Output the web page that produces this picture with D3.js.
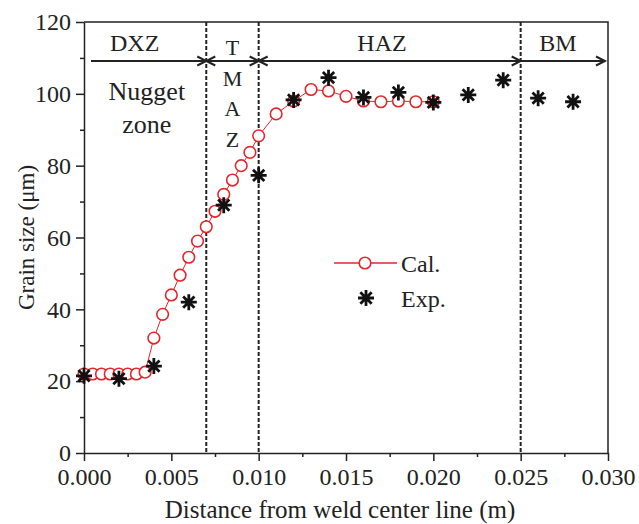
<!DOCTYPE html>
<html>
<head>
<meta charset="utf-8">
<script src="https://cdn.jsdelivr.net/npm/d3@7"></script>
<style>
  body { margin: 0; background: #fff; }
  svg { display: block; }
  text { font-family: "Liberation Serif", "Times New Roman", serif; fill: #222; }
</style>
</head>
<body>
<div id="chart"></div>
<script>
// calculated grain size (red circles)
const calX = [0, 0.0005, 0.001, 0.0015, 0.002, 0.0025, 0.003, 0.0035, 0.004, 0.0045,
              0.005, 0.0055, 0.006, 0.0065, 0.007, 0.0075, 0.008, 0.0085, 0.009, 0.0095,
              0.010, 0.011, 0.012, 0.013, 0.014, 0.015, 0.016, 0.017, 0.018, 0.019, 0.020]
const calY = [22, 22, 22, 22, 22, 22, 22, 22.5, 32, 38.6,
              44, 49.5, 54.5, 59, 63, 67.3, 72, 76, 80, 83.7,
              88.3, 94.4, 98, 101.2, 100.8, 99.3, 98, 97.8, 98, 97.8, 97.8]

// experimental grain size (black stars)
const expX = [0, 0.002, 0.004, 0.006, 0.008, 0.010, 0.012, 0.014, 0.016, 0.018,
              0.020, 0.022, 0.024, 0.026, 0.028]
const expY = [21.5, 20.7, 24.2, 42, 69, 77.3, 98.3, 104.5, 99, 100.4,
              97.6, 99.7, 103.8, 98.8, 97.8]

const xTicks = [0, 0.005, 0.010, 0.015, 0.020, 0.025, 0.030]
const xMinor = [0.0025, 0.0075, 0.0125, 0.0175, 0.0225, 0.0275]
const yTicks = [0, 20, 40, 60, 80, 100, 120]
const yMinor = [10, 30, 50, 70, 90, 110]

// zone boundaries (dashed lines) and zone labels
const boundaries = [0.007, 0.010, 0.025]
const zoneNames = ["DXZ", "HAZ", "BM"]
const zoneLabelX = [0.0029, 0.01706, 0.02714]
const tmazLetters = ["T", "M", "A", "Z"]

const width = 639, height = 524
const margin = {top: 22, right: 31, bottom: 71, left: 84}

const svg = d3.select("#chart").append("svg")
    .attr("width", width)
    .attr("height", height)

const x = d3.scaleLinear().domain([0, 0.030]).range([margin.left, width - margin.right])
const y = d3.scaleLinear().domain([0, 120]).range([height - margin.bottom, margin.top])

const x0 = x.range()[0], x1 = x.range()[1]
const y0 = y.range()[0], y1 = y.range()[1]

// frame (top + right)
svg.append("path")
    .attr("d", `M${x0},${y1}H${x1}V${y0}`)
    .attr("fill", "none")
    .attr("stroke", "#222")
    .attr("stroke-width", 1.5)

// minor ticks
svg.append("g").attr("transform", `translate(0,${y0})`)
    .call(d3.axisBottom(x).tickValues(xMinor).tickSize(4).tickFormat(""))
    .call(g => g.select(".domain").remove())
    .call(g => g.selectAll("line").attr("stroke", "#222").attr("stroke-width", 1.5))
svg.append("g").attr("transform", `translate(${x0},0)`)
    .call(d3.axisLeft(y).tickValues(yMinor).tickSize(4).tickFormat(""))
    .call(g => g.select(".domain").remove())
    .call(g => g.selectAll("line").attr("stroke", "#222").attr("stroke-width", 1.5))

// main axes
const xAxis = svg.append("g").attr("transform", `translate(0,${y0})`)
    .call(d3.axisBottom(x).tickValues(xTicks).tickSize(8).tickSizeOuter(0).tickPadding(7)
      .tickFormat(d3.format(".3f")))
const yAxis = svg.append("g").attr("transform", `translate(${x0},0)`)
    .call(d3.axisLeft(y).tickValues(yTicks).tickSize(8).tickSizeOuter(0).tickPadding(5))

;[xAxis, yAxis].forEach(g => {
  g.select(".domain").attr("stroke", "#222").attr("stroke-width", 1.5)
  g.selectAll(".tick line").attr("stroke", "#222").attr("stroke-width", 1.5)
  g.selectAll(".tick text")
    .style("font-family", '"Liberation Serif", "Times New Roman", serif')
    .style("font-size", "24px")
    .attr("fill", "#222")
})

// axis titles
svg.append("text")
    .attr("x", 340)
    .attr("y", 518)
    .attr("text-anchor", "middle")
    .style("font-size", "25px")
    .text("Distance from weld center line (m)")

svg.append("text")
    .attr("transform", `translate(34,${(y0 + y1) / 2}) rotate(-90)`)
    .attr("text-anchor", "middle")
    .style("font-size", "23px")
    .text("Grain size (μm)")

// dashed zone boundaries
svg.append("g").selectAll("line")
  .data(boundaries)
  .join("line")
    .attr("x1", d => x(d)).attr("x2", d => x(d))
    .attr("y1", y1).attr("y2", y0)
    .attr("stroke", "#222")
    .attr("stroke-width", 2)
    .attr("stroke-dasharray", "4,2")

// arrows along the top
const arrowY = 61
const arrowG = svg.append("g").attr("stroke", "#222").attr("stroke-width", 2).attr("fill", "none")
function arrowHead(px, dir) {
  arrowG.append("path")
    .attr("d", `M${px - dir * 9},${arrowY - 4.5}L${px},${arrowY}L${px - dir * 9},${arrowY + 4.5}`)
}
const segs = [
  {from: x0 + 7, to: x(boundaries[0]), left: false, right: true},
  {from: x(boundaries[0]), to: x(boundaries[1]), left: true, right: true},
  {from: x(boundaries[1]), to: x(boundaries[2]), left: true, right: true},
  {from: x(boundaries[2]), to: x1 - 3, left: false, right: true}
]
segs.forEach(s => {
  arrowG.append("line").attr("x1", s.from).attr("x2", s.to).attr("y1", arrowY).attr("y2", arrowY)
  if (s.right) arrowHead(s.to, 1)
  if (s.left) arrowHead(s.from, -1)
})

// zone labels
svg.append("g").selectAll("text")
  .data(zoneNames)
  .join("text")
    .attr("x", (d, i) => x(zoneLabelX[i]))
    .attr("y", 51)
    .attr("text-anchor", "middle")
    .style("font-size", "24px")
    .text(d => d)

svg.append("g").selectAll("text")
  .data(tmazLetters)
  .join("text")
    .attr("x", x((boundaries[0] + boundaries[1]) / 2))
    .attr("y", (d, i) => 55 + i * 30.5)
    .attr("text-anchor", "middle")
    .style("font-size", "22px")
    .text(d => d)

const nugget = svg.append("text")
    .attr("text-anchor", "middle")
    .style("font-size", "26px")
nugget.append("tspan").attr("x", x(0.0036)).attr("y", 100).text("Nugget")
nugget.append("tspan").attr("x", x(0.0036)).attr("y", 133).text("zone")

// calculated series
const cal = calX.map((d, i) => [d, calY[i]])
const exp = expX.map((d, i) => [d, expY[i]])
const red = "#e5262d"

svg.append("path")
    .datum(cal)
    .attr("d", d3.line().x(d => x(d[0])).y(d => y(d[1])))
    .attr("fill", "none")
    .attr("stroke", red)
    .attr("stroke-width", 1)

svg.append("g").selectAll("circle")
  .data(cal)
  .join("circle")
    .attr("cx", d => x(d[0]))
    .attr("cy", d => y(d[1]))
    .attr("r", 5.8)
    .attr("fill", "#fff")
    .attr("stroke", red)
    .attr("stroke-width", 1.6)

// star marker
function starPath(r) {
  const a = r * Math.SQRT1_2
  return `M${-r},0L${r},0M0,${-r}L0,${r}M${-a},${-a}L${a},${a}M${-a},${a}L${a},${-a}`
}
svg.append("g").selectAll("path")
  .data(exp)
  .join("path")
    .attr("transform", d => `translate(${x(d[0])},${y(d[1])})`)
    .attr("d", starPath(8))
    .attr("stroke", "#111")
    .attr("stroke-width", 2.8)
    .attr("fill", "none")

// legend
const lg = svg.append("g")
lg.append("line").attr("x1", 334).attr("x2", 397).attr("y1", 263).attr("y2", 263)
    .attr("stroke", red).attr("stroke-width", 1.5)
lg.append("circle").attr("cx", 365).attr("cy", 263).attr("r", 5.8)
    .attr("fill", "#fff").attr("stroke", red).attr("stroke-width", 1.6)
lg.append("text").attr("x", 401).attr("y", 272).style("font-size", "24px").text("Cal.")
lg.append("path").attr("transform", "translate(366,298)").attr("d", starPath(8))
    .attr("stroke", "#111").attr("stroke-width", 2.8).attr("fill", "none")
lg.append("text").attr("x", 401).attr("y", 307).style("font-size", "24px").text("Exp.")
</script>
</body>
</html>
